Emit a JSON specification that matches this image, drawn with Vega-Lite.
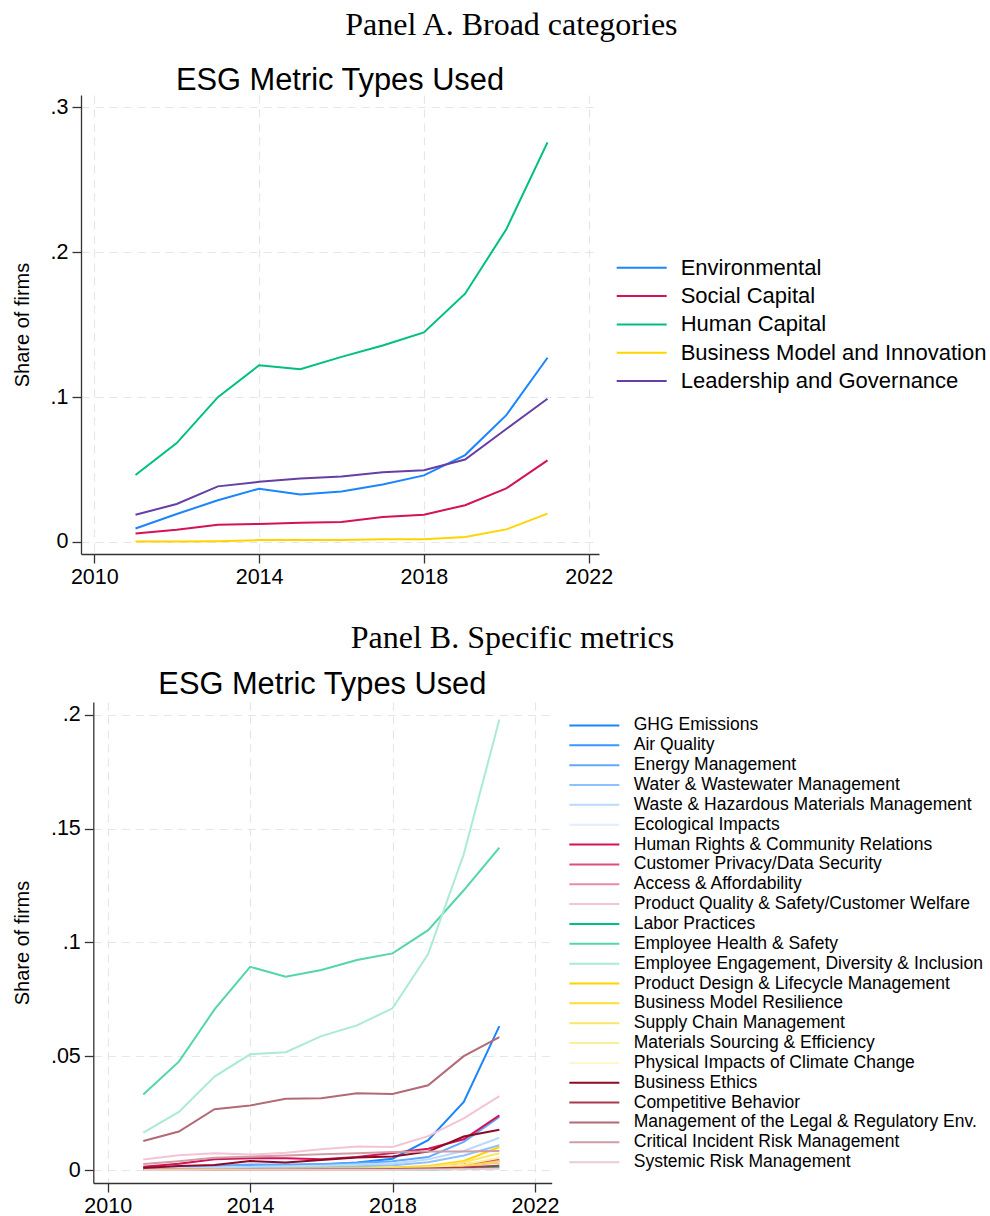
{
  "$schema": "https://vega.github.io/schema/vega-lite/v6.json",
  "background": "white",
  "padding": {"left": 12, "top": 8, "right": 0, "bottom": 0},
  "config": {
    "view": {"stroke": null},
    "font": "Liberation Sans",
    "axis": {
      "domainColor": "#333333", "domainWidth": 1.3,
      "tickColor": "#333333", "tickWidth": 1.3, "tickSize": 9,
      "labelFont": "Liberation Sans", "labelFontSize": 21.5, "labelColor": "#000000",
      "titleFont": "Liberation Sans", "titleFontSize": 20, "titleFontWeight": "normal", "titleColor": "#000000",
      "gridColor": "#E6E6E6", "gridDash": [8, 6], "gridWidth": 1.2
    },
    "legend": {"labelFont": "Liberation Sans", "labelColor": "#000000", "padding": 0, "labelLimit": 500}
  },
  "resolve": {"scale": {"color": "independent"}, "legend": {"color": "independent"}},
  "datasets": {
    "a": [
      {"year": 2011, "metric": "Environmental", "share": 0.0093},
      {"year": 2012, "metric": "Environmental", "share": 0.0193},
      {"year": 2013, "metric": "Environmental", "share": 0.0288},
      {"year": 2014, "metric": "Environmental", "share": 0.0368},
      {"year": 2015, "metric": "Environmental", "share": 0.0328},
      {"year": 2016, "metric": "Environmental", "share": 0.0349},
      {"year": 2017, "metric": "Environmental", "share": 0.0397},
      {"year": 2018, "metric": "Environmental", "share": 0.046},
      {"year": 2019, "metric": "Environmental", "share": 0.060},
      {"year": 2020, "metric": "Environmental", "share": 0.0876},
      {"year": 2021, "metric": "Environmental", "share": 0.1272},
      {"year": 2011, "metric": "Social Capital", "share": 0.0058},
      {"year": 2012, "metric": "Social Capital", "share": 0.0085},
      {"year": 2013, "metric": "Social Capital", "share": 0.0119},
      {"year": 2014, "metric": "Social Capital", "share": 0.0124},
      {"year": 2015, "metric": "Social Capital", "share": 0.0132},
      {"year": 2016, "metric": "Social Capital", "share": 0.0138},
      {"year": 2017, "metric": "Social Capital", "share": 0.0172},
      {"year": 2018, "metric": "Social Capital", "share": 0.0188},
      {"year": 2019, "metric": "Social Capital", "share": 0.0254},
      {"year": 2020, "metric": "Social Capital", "share": 0.037},
      {"year": 2021, "metric": "Social Capital", "share": 0.0563},
      {"year": 2011, "metric": "Human Capital", "share": 0.0463},
      {"year": 2012, "metric": "Human Capital", "share": 0.0683},
      {"year": 2013, "metric": "Human Capital", "share": 0.100},
      {"year": 2014, "metric": "Human Capital", "share": 0.122},
      {"year": 2015, "metric": "Human Capital", "share": 0.1193},
      {"year": 2016, "metric": "Human Capital", "share": 0.1278},
      {"year": 2017, "metric": "Human Capital", "share": 0.1357},
      {"year": 2018, "metric": "Human Capital", "share": 0.1447},
      {"year": 2019, "metric": "Human Capital", "share": 0.1714},
      {"year": 2020, "metric": "Human Capital", "share": 0.2159},
      {"year": 2021, "metric": "Human Capital", "share": 0.2759},
      {"year": 2011, "metric": "Business Model and Innovation", "share": 0.0003},
      {"year": 2012, "metric": "Business Model and Innovation", "share": 0.0003},
      {"year": 2013, "metric": "Business Model and Innovation", "share": 0.0005},
      {"year": 2014, "metric": "Business Model and Innovation", "share": 0.0013},
      {"year": 2015, "metric": "Business Model and Innovation", "share": 0.0014},
      {"year": 2016, "metric": "Business Model and Innovation", "share": 0.0014},
      {"year": 2017, "metric": "Business Model and Innovation", "share": 0.0018},
      {"year": 2018, "metric": "Business Model and Innovation", "share": 0.0019},
      {"year": 2019, "metric": "Business Model and Innovation", "share": 0.0034},
      {"year": 2020, "metric": "Business Model and Innovation", "share": 0.0087},
      {"year": 2021, "metric": "Business Model and Innovation", "share": 0.0196},
      {"year": 2011, "metric": "Leadership and Governance", "share": 0.0188},
      {"year": 2012, "metric": "Leadership and Governance", "share": 0.0262},
      {"year": 2013, "metric": "Leadership and Governance", "share": 0.0384},
      {"year": 2014, "metric": "Leadership and Governance", "share": 0.0415},
      {"year": 2015, "metric": "Leadership and Governance", "share": 0.0439},
      {"year": 2016, "metric": "Leadership and Governance", "share": 0.0452},
      {"year": 2017, "metric": "Leadership and Governance", "share": 0.0481},
      {"year": 2018, "metric": "Leadership and Governance", "share": 0.0495},
      {"year": 2019, "metric": "Leadership and Governance", "share": 0.0569},
      {"year": 2020, "metric": "Leadership and Governance", "share": 0.078},
      {"year": 2021, "metric": "Leadership and Governance", "share": 0.0989}
    ],
    "b": [
      {"year": 2011, "metric": "GHG Emissions", "share": 0.0009},
      {"year": 2012, "metric": "GHG Emissions", "share": 0.0015},
      {"year": 2013, "metric": "GHG Emissions", "share": 0.0018},
      {"year": 2014, "metric": "GHG Emissions", "share": 0.0019},
      {"year": 2015, "metric": "GHG Emissions", "share": 0.0022},
      {"year": 2016, "metric": "GHG Emissions", "share": 0.0025},
      {"year": 2017, "metric": "GHG Emissions", "share": 0.0034},
      {"year": 2018, "metric": "GHG Emissions", "share": 0.0051},
      {"year": 2019, "metric": "GHG Emissions", "share": 0.0132},
      {"year": 2020, "metric": "GHG Emissions", "share": 0.030},
      {"year": 2021, "metric": "GHG Emissions", "share": 0.0633},
      {"year": 2011, "metric": "Air Quality", "share": 0.0003},
      {"year": 2012, "metric": "Air Quality", "share": 0.0004},
      {"year": 2013, "metric": "Air Quality", "share": 0.0005},
      {"year": 2014, "metric": "Air Quality", "share": 0.0006},
      {"year": 2015, "metric": "Air Quality", "share": 0.0006},
      {"year": 2016, "metric": "Air Quality", "share": 0.0007},
      {"year": 2017, "metric": "Air Quality", "share": 0.0008},
      {"year": 2018, "metric": "Air Quality", "share": 0.001},
      {"year": 2019, "metric": "Air Quality", "share": 0.0015},
      {"year": 2020, "metric": "Air Quality", "share": 0.0025},
      {"year": 2021, "metric": "Air Quality", "share": 0.004},
      {"year": 2011, "metric": "Energy Management", "share": 0.0012},
      {"year": 2012, "metric": "Energy Management", "share": 0.0016},
      {"year": 2013, "metric": "Energy Management", "share": 0.002},
      {"year": 2014, "metric": "Energy Management", "share": 0.0025},
      {"year": 2015, "metric": "Energy Management", "share": 0.0026},
      {"year": 2016, "metric": "Energy Management", "share": 0.0028},
      {"year": 2017, "metric": "Energy Management", "share": 0.0032},
      {"year": 2018, "metric": "Energy Management", "share": 0.004},
      {"year": 2019, "metric": "Energy Management", "share": 0.0058},
      {"year": 2020, "metric": "Energy Management", "share": 0.0125},
      {"year": 2021, "metric": "Energy Management", "share": 0.0234},
      {"year": 2011, "metric": "Water & Wastewater Management", "share": 0.0005},
      {"year": 2012, "metric": "Water & Wastewater Management", "share": 0.0007},
      {"year": 2013, "metric": "Water & Wastewater Management", "share": 0.001},
      {"year": 2014, "metric": "Water & Wastewater Management", "share": 0.0012},
      {"year": 2015, "metric": "Water & Wastewater Management", "share": 0.0013},
      {"year": 2016, "metric": "Water & Wastewater Management", "share": 0.0015},
      {"year": 2017, "metric": "Water & Wastewater Management", "share": 0.0018},
      {"year": 2018, "metric": "Water & Wastewater Management", "share": 0.0022},
      {"year": 2019, "metric": "Water & Wastewater Management", "share": 0.0035},
      {"year": 2020, "metric": "Water & Wastewater Management", "share": 0.0065},
      {"year": 2021, "metric": "Water & Wastewater Management", "share": 0.011},
      {"year": 2011, "metric": "Waste & Hazardous Materials Management", "share": 0.0008},
      {"year": 2012, "metric": "Waste & Hazardous Materials Management", "share": 0.001},
      {"year": 2013, "metric": "Waste & Hazardous Materials Management", "share": 0.0013},
      {"year": 2014, "metric": "Waste & Hazardous Materials Management", "share": 0.0016},
      {"year": 2015, "metric": "Waste & Hazardous Materials Management", "share": 0.0018},
      {"year": 2016, "metric": "Waste & Hazardous Materials Management", "share": 0.002},
      {"year": 2017, "metric": "Waste & Hazardous Materials Management", "share": 0.0025},
      {"year": 2018, "metric": "Waste & Hazardous Materials Management", "share": 0.003},
      {"year": 2019, "metric": "Waste & Hazardous Materials Management", "share": 0.0048},
      {"year": 2020, "metric": "Waste & Hazardous Materials Management", "share": 0.0085},
      {"year": 2021, "metric": "Waste & Hazardous Materials Management", "share": 0.0143},
      {"year": 2011, "metric": "Ecological Impacts", "share": 0.0002},
      {"year": 2012, "metric": "Ecological Impacts", "share": 0.0003},
      {"year": 2013, "metric": "Ecological Impacts", "share": 0.0003},
      {"year": 2014, "metric": "Ecological Impacts", "share": 0.0004},
      {"year": 2015, "metric": "Ecological Impacts", "share": 0.0004},
      {"year": 2016, "metric": "Ecological Impacts", "share": 0.0005},
      {"year": 2017, "metric": "Ecological Impacts", "share": 0.0006},
      {"year": 2018, "metric": "Ecological Impacts", "share": 0.0007},
      {"year": 2019, "metric": "Ecological Impacts", "share": 0.001},
      {"year": 2020, "metric": "Ecological Impacts", "share": 0.0018},
      {"year": 2021, "metric": "Ecological Impacts", "share": 0.003},
      {"year": 2011, "metric": "Human Rights & Community Relations", "share": 0.0016},
      {"year": 2012, "metric": "Human Rights & Community Relations", "share": 0.0029},
      {"year": 2013, "metric": "Human Rights & Community Relations", "share": 0.0048},
      {"year": 2014, "metric": "Human Rights & Community Relations", "share": 0.0053},
      {"year": 2015, "metric": "Human Rights & Community Relations", "share": 0.0053},
      {"year": 2016, "metric": "Human Rights & Community Relations", "share": 0.0048},
      {"year": 2017, "metric": "Human Rights & Community Relations", "share": 0.0058},
      {"year": 2018, "metric": "Human Rights & Community Relations", "share": 0.0076},
      {"year": 2019, "metric": "Human Rights & Community Relations", "share": 0.0095},
      {"year": 2020, "metric": "Human Rights & Community Relations", "share": 0.0136},
      {"year": 2021, "metric": "Human Rights & Community Relations", "share": 0.0241},
      {"year": 2011, "metric": "Customer Privacy/Data Security", "share": 0.0002},
      {"year": 2012, "metric": "Customer Privacy/Data Security", "share": 0.0003},
      {"year": 2013, "metric": "Customer Privacy/Data Security", "share": 0.0004},
      {"year": 2014, "metric": "Customer Privacy/Data Security", "share": 0.0005},
      {"year": 2015, "metric": "Customer Privacy/Data Security", "share": 0.0005},
      {"year": 2016, "metric": "Customer Privacy/Data Security", "share": 0.0006},
      {"year": 2017, "metric": "Customer Privacy/Data Security", "share": 0.0007},
      {"year": 2018, "metric": "Customer Privacy/Data Security", "share": 0.0008},
      {"year": 2019, "metric": "Customer Privacy/Data Security", "share": 0.0012},
      {"year": 2020, "metric": "Customer Privacy/Data Security", "share": 0.0025},
      {"year": 2021, "metric": "Customer Privacy/Data Security", "share": 0.0048},
      {"year": 2011, "metric": "Access & Affordability", "share": 0.0002},
      {"year": 2012, "metric": "Access & Affordability", "share": 0.0002},
      {"year": 2013, "metric": "Access & Affordability", "share": 0.0003},
      {"year": 2014, "metric": "Access & Affordability", "share": 0.0003},
      {"year": 2015, "metric": "Access & Affordability", "share": 0.0004},
      {"year": 2016, "metric": "Access & Affordability", "share": 0.0004},
      {"year": 2017, "metric": "Access & Affordability", "share": 0.0005},
      {"year": 2018, "metric": "Access & Affordability", "share": 0.0006},
      {"year": 2019, "metric": "Access & Affordability", "share": 0.0009},
      {"year": 2020, "metric": "Access & Affordability", "share": 0.0016},
      {"year": 2021, "metric": "Access & Affordability", "share": 0.0028},
      {"year": 2011, "metric": "Product Quality & Safety/Customer Welfare", "share": 0.0047},
      {"year": 2012, "metric": "Product Quality & Safety/Customer Welfare", "share": 0.0066},
      {"year": 2013, "metric": "Product Quality & Safety/Customer Welfare", "share": 0.0075},
      {"year": 2014, "metric": "Product Quality & Safety/Customer Welfare", "share": 0.0069},
      {"year": 2015, "metric": "Product Quality & Safety/Customer Welfare", "share": 0.0077},
      {"year": 2016, "metric": "Product Quality & Safety/Customer Welfare", "share": 0.0092},
      {"year": 2017, "metric": "Product Quality & Safety/Customer Welfare", "share": 0.0104},
      {"year": 2018, "metric": "Product Quality & Safety/Customer Welfare", "share": 0.0102},
      {"year": 2019, "metric": "Product Quality & Safety/Customer Welfare", "share": 0.015},
      {"year": 2020, "metric": "Product Quality & Safety/Customer Welfare", "share": 0.0228},
      {"year": 2021, "metric": "Product Quality & Safety/Customer Welfare", "share": 0.0326},
      {"year": 2011, "metric": "Labor Practices", "share": 0.0001},
      {"year": 2012, "metric": "Labor Practices", "share": 0.0001},
      {"year": 2013, "metric": "Labor Practices", "share": 0.0001},
      {"year": 2014, "metric": "Labor Practices", "share": 0.0002},
      {"year": 2015, "metric": "Labor Practices", "share": 0.0002},
      {"year": 2016, "metric": "Labor Practices", "share": 0.0002},
      {"year": 2017, "metric": "Labor Practices", "share": 0.0003},
      {"year": 2018, "metric": "Labor Practices", "share": 0.0003},
      {"year": 2019, "metric": "Labor Practices", "share": 0.0004},
      {"year": 2020, "metric": "Labor Practices", "share": 0.0007},
      {"year": 2021, "metric": "Labor Practices", "share": 0.0012},
      {"year": 2011, "metric": "Employee Health & Safety", "share": 0.0333},
      {"year": 2012, "metric": "Employee Health & Safety", "share": 0.0477},
      {"year": 2013, "metric": "Employee Health & Safety", "share": 0.0706},
      {"year": 2014, "metric": "Employee Health & Safety", "share": 0.0893},
      {"year": 2015, "metric": "Employee Health & Safety", "share": 0.085},
      {"year": 2016, "metric": "Employee Health & Safety", "share": 0.0879},
      {"year": 2017, "metric": "Employee Health & Safety", "share": 0.0923},
      {"year": 2018, "metric": "Employee Health & Safety", "share": 0.0952},
      {"year": 2019, "metric": "Employee Health & Safety", "share": 0.1054},
      {"year": 2020, "metric": "Employee Health & Safety", "share": 0.1229},
      {"year": 2021, "metric": "Employee Health & Safety", "share": 0.1416},
      {"year": 2011, "metric": "Employee Engagement, Diversity & Inclusion", "share": 0.0165},
      {"year": 2012, "metric": "Employee Engagement, Diversity & Inclusion", "share": 0.0256},
      {"year": 2013, "metric": "Employee Engagement, Diversity & Inclusion", "share": 0.0411},
      {"year": 2014, "metric": "Employee Engagement, Diversity & Inclusion", "share": 0.0509},
      {"year": 2015, "metric": "Employee Engagement, Diversity & Inclusion", "share": 0.0518},
      {"year": 2016, "metric": "Employee Engagement, Diversity & Inclusion", "share": 0.0589},
      {"year": 2017, "metric": "Employee Engagement, Diversity & Inclusion", "share": 0.0636},
      {"year": 2018, "metric": "Employee Engagement, Diversity & Inclusion", "share": 0.0711},
      {"year": 2019, "metric": "Employee Engagement, Diversity & Inclusion", "share": 0.0949},
      {"year": 2020, "metric": "Employee Engagement, Diversity & Inclusion", "share": 0.1387},
      {"year": 2021, "metric": "Employee Engagement, Diversity & Inclusion", "share": 0.1978},
      {"year": 2011, "metric": "Product Design & Lifecycle Management", "share": 0.0003},
      {"year": 2012, "metric": "Product Design & Lifecycle Management", "share": 0.0004},
      {"year": 2013, "metric": "Product Design & Lifecycle Management", "share": 0.0005},
      {"year": 2014, "metric": "Product Design & Lifecycle Management", "share": 0.0006},
      {"year": 2015, "metric": "Product Design & Lifecycle Management", "share": 0.0007},
      {"year": 2016, "metric": "Product Design & Lifecycle Management", "share": 0.0008},
      {"year": 2017, "metric": "Product Design & Lifecycle Management", "share": 0.0009},
      {"year": 2018, "metric": "Product Design & Lifecycle Management", "share": 0.0012},
      {"year": 2019, "metric": "Product Design & Lifecycle Management", "share": 0.0019},
      {"year": 2020, "metric": "Product Design & Lifecycle Management", "share": 0.0041},
      {"year": 2021, "metric": "Product Design & Lifecycle Management", "share": 0.0102},
      {"year": 2011, "metric": "Business Model Resilience", "share": 0.0001},
      {"year": 2012, "metric": "Business Model Resilience", "share": 0.0001},
      {"year": 2013, "metric": "Business Model Resilience", "share": 0.0002},
      {"year": 2014, "metric": "Business Model Resilience", "share": 0.0002},
      {"year": 2015, "metric": "Business Model Resilience", "share": 0.0002},
      {"year": 2016, "metric": "Business Model Resilience", "share": 0.0003},
      {"year": 2017, "metric": "Business Model Resilience", "share": 0.0003},
      {"year": 2018, "metric": "Business Model Resilience", "share": 0.0004},
      {"year": 2019, "metric": "Business Model Resilience", "share": 0.0008},
      {"year": 2020, "metric": "Business Model Resilience", "share": 0.0018},
      {"year": 2021, "metric": "Business Model Resilience", "share": 0.004},
      {"year": 2011, "metric": "Supply Chain Management", "share": 0.0002},
      {"year": 2012, "metric": "Supply Chain Management", "share": 0.0003},
      {"year": 2013, "metric": "Supply Chain Management", "share": 0.0004},
      {"year": 2014, "metric": "Supply Chain Management", "share": 0.0004},
      {"year": 2015, "metric": "Supply Chain Management", "share": 0.0005},
      {"year": 2016, "metric": "Supply Chain Management", "share": 0.0006},
      {"year": 2017, "metric": "Supply Chain Management", "share": 0.0007},
      {"year": 2018, "metric": "Supply Chain Management", "share": 0.0009},
      {"year": 2019, "metric": "Supply Chain Management", "share": 0.0015},
      {"year": 2020, "metric": "Supply Chain Management", "share": 0.0035},
      {"year": 2021, "metric": "Supply Chain Management", "share": 0.0075},
      {"year": 2011, "metric": "Materials Sourcing & Efficiency", "share": 0.0001},
      {"year": 2012, "metric": "Materials Sourcing & Efficiency", "share": 0.0002},
      {"year": 2013, "metric": "Materials Sourcing & Efficiency", "share": 0.0002},
      {"year": 2014, "metric": "Materials Sourcing & Efficiency", "share": 0.0003},
      {"year": 2015, "metric": "Materials Sourcing & Efficiency", "share": 0.0003},
      {"year": 2016, "metric": "Materials Sourcing & Efficiency", "share": 0.0004},
      {"year": 2017, "metric": "Materials Sourcing & Efficiency", "share": 0.0005},
      {"year": 2018, "metric": "Materials Sourcing & Efficiency", "share": 0.0006},
      {"year": 2019, "metric": "Materials Sourcing & Efficiency", "share": 0.001},
      {"year": 2020, "metric": "Materials Sourcing & Efficiency", "share": 0.0025},
      {"year": 2021, "metric": "Materials Sourcing & Efficiency", "share": 0.0055},
      {"year": 2011, "metric": "Physical Impacts of Climate Change", "share": 0.0001},
      {"year": 2012, "metric": "Physical Impacts of Climate Change", "share": 0.0001},
      {"year": 2013, "metric": "Physical Impacts of Climate Change", "share": 0.0001},
      {"year": 2014, "metric": "Physical Impacts of Climate Change", "share": 0.0001},
      {"year": 2015, "metric": "Physical Impacts of Climate Change", "share": 0.0002},
      {"year": 2016, "metric": "Physical Impacts of Climate Change", "share": 0.0002},
      {"year": 2017, "metric": "Physical Impacts of Climate Change", "share": 0.0002},
      {"year": 2018, "metric": "Physical Impacts of Climate Change", "share": 0.0003},
      {"year": 2019, "metric": "Physical Impacts of Climate Change", "share": 0.0005},
      {"year": 2020, "metric": "Physical Impacts of Climate Change", "share": 0.0012},
      {"year": 2021, "metric": "Physical Impacts of Climate Change", "share": 0.0025},
      {"year": 2011, "metric": "Business Ethics", "share": 0.001},
      {"year": 2012, "metric": "Business Ethics", "share": 0.0019},
      {"year": 2013, "metric": "Business Ethics", "share": 0.0023},
      {"year": 2014, "metric": "Business Ethics", "share": 0.0041},
      {"year": 2015, "metric": "Business Ethics", "share": 0.0034},
      {"year": 2016, "metric": "Business Ethics", "share": 0.0045},
      {"year": 2017, "metric": "Business Ethics", "share": 0.0056},
      {"year": 2018, "metric": "Business Ethics", "share": 0.0061},
      {"year": 2019, "metric": "Business Ethics", "share": 0.0082},
      {"year": 2020, "metric": "Business Ethics", "share": 0.0148},
      {"year": 2021, "metric": "Business Ethics", "share": 0.0178},
      {"year": 2011, "metric": "Competitive Behavior", "share": 0.0002},
      {"year": 2012, "metric": "Competitive Behavior", "share": 0.0003},
      {"year": 2013, "metric": "Competitive Behavior", "share": 0.0003},
      {"year": 2014, "metric": "Competitive Behavior", "share": 0.0004},
      {"year": 2015, "metric": "Competitive Behavior", "share": 0.0004},
      {"year": 2016, "metric": "Competitive Behavior", "share": 0.0005},
      {"year": 2017, "metric": "Competitive Behavior", "share": 0.0005},
      {"year": 2018, "metric": "Competitive Behavior", "share": 0.0006},
      {"year": 2019, "metric": "Competitive Behavior", "share": 0.0008},
      {"year": 2020, "metric": "Competitive Behavior", "share": 0.0012},
      {"year": 2021, "metric": "Competitive Behavior", "share": 0.002},
      {"year": 2011, "metric": "Management of the Legal & Regulatory Env.", "share": 0.0129},
      {"year": 2012, "metric": "Management of the Legal & Regulatory Env.", "share": 0.017},
      {"year": 2013, "metric": "Management of the Legal & Regulatory Env.", "share": 0.0268},
      {"year": 2014, "metric": "Management of the Legal & Regulatory Env.", "share": 0.0284},
      {"year": 2015, "metric": "Management of the Legal & Regulatory Env.", "share": 0.0314},
      {"year": 2016, "metric": "Management of the Legal & Regulatory Env.", "share": 0.0316},
      {"year": 2017, "metric": "Management of the Legal & Regulatory Env.", "share": 0.0338},
      {"year": 2018, "metric": "Management of the Legal & Regulatory Env.", "share": 0.0335},
      {"year": 2019, "metric": "Management of the Legal & Regulatory Env.", "share": 0.0373},
      {"year": 2020, "metric": "Management of the Legal & Regulatory Env.", "share": 0.0501},
      {"year": 2021, "metric": "Management of the Legal & Regulatory Env.", "share": 0.0585},
      {"year": 2011, "metric": "Critical Incident Risk Management", "share": 0.0028},
      {"year": 2012, "metric": "Critical Incident Risk Management", "share": 0.004},
      {"year": 2013, "metric": "Critical Incident Risk Management", "share": 0.0055},
      {"year": 2014, "metric": "Critical Incident Risk Management", "share": 0.006},
      {"year": 2015, "metric": "Critical Incident Risk Management", "share": 0.0065},
      {"year": 2016, "metric": "Critical Incident Risk Management", "share": 0.007},
      {"year": 2017, "metric": "Critical Incident Risk Management", "share": 0.0075},
      {"year": 2018, "metric": "Critical Incident Risk Management", "share": 0.008},
      {"year": 2019, "metric": "Critical Incident Risk Management", "share": 0.0082},
      {"year": 2020, "metric": "Critical Incident Risk Management", "share": 0.0083},
      {"year": 2021, "metric": "Critical Incident Risk Management", "share": 0.0085},
      {"year": 2011, "metric": "Systemic Risk Management", "share": 0.0001},
      {"year": 2012, "metric": "Systemic Risk Management", "share": 0.0001},
      {"year": 2013, "metric": "Systemic Risk Management", "share": 0.0002},
      {"year": 2014, "metric": "Systemic Risk Management", "share": 0.0002},
      {"year": 2015, "metric": "Systemic Risk Management", "share": 0.0002},
      {"year": 2016, "metric": "Systemic Risk Management", "share": 0.0003},
      {"year": 2017, "metric": "Systemic Risk Management", "share": 0.0003},
      {"year": 2018, "metric": "Systemic Risk Management", "share": 0.0003},
      {"year": 2019, "metric": "Systemic Risk Management", "share": 0.0004},
      {"year": 2020, "metric": "Systemic Risk Management", "share": 0.0005},
      {"year": 2021, "metric": "Systemic Risk Management", "share": 0.0007}
    ]
  },
  "concat": [
    {
      "title": {"text": "Panel A. Broad categories", "font": "Liberation Serif", "fontSize": 32, "fontWeight": "normal", "color": "#000000", "anchor": "middle", "baseline": "alphabetic", "offset": -2, "dx": 12},
      "vconcat": [
        {
          "width": 518,
          "height": 459,
          "title": {"text": "ESG Metric Types Used", "font": "Liberation Sans", "fontSize": 30.8, "fontWeight": "normal", "color": "#000000", "anchor": "middle", "baseline": "alphabetic", "offset": -25.5},
          "data": {"name": "a"},
          "mark": {"type": "line", "strokeWidth": 2},
          "encoding": {
            "x": {"field": "year", "type": "quantitative",
              "scale": {"domain": [2009.677, 2022.25], "nice": false, "zero": false},
              "axis": {"values": [2010, 2014, 2018, 2022], "format": "d", "title": null, "labelPadding": 3}},
            "y": {"field": "share", "type": "quantitative",
              "scale": {"domain": [-0.0083, 0.3086], "nice": false, "zero": false},
              "axis": {"values": [0, 0.1, 0.2, 0.3], "labelExpr": "datum.value == 0 ? '0' : replace(format(datum.value, '.2~f'), '0.', '.')", "title": "Share of firms", "titlePadding": 18, "labelPadding": 4}},
            "color": {"field": "metric", "type": "nominal",
              "scale": {"domain": ["Environmental", "Social Capital", "Human Capital", "Business Model and Innovation", "Leadership and Governance"],
                "range": ["#1A85FF", "#D41159", "#00BF7F", "#FFD400", "#653FA6"]},
              "legend": {"title": null, "orient": "none", "legendX": 549.7, "legendY": 161.8, "symbolType": "M-5,0H5", "symbolSize": 100, "symbolStrokeWidth": 2, "labelFontSize": 22, "labelOffset": 28, "rowPadding": 6.3}}
          }
        }
      ]
    },
    {
      "title": {"text": "Panel B. Specific metrics", "font": "Liberation Serif", "fontSize": 32, "fontWeight": "normal", "color": "#000000", "anchor": "middle", "baseline": "alphabetic", "offset": -11, "dx": 14.5},
      "vconcat": [
        {
          "width": 470.7,
          "height": 481,
          "title": {"text": "ESG Metric Types Used", "font": "Liberation Sans", "fontSize": 30.8, "fontWeight": "normal", "color": "#000000", "anchor": "middle", "baseline": "alphabetic", "offset": -22.3, "dx": 6},
          "data": {"name": "b"},
          "mark": {"type": "line", "strokeWidth": 2},
          "encoding": {
            "x": {"field": "year", "type": "quantitative",
              "scale": {"domain": [2009.596, 2022.47], "range": [12.3, 470.7], "nice": false, "zero": false},
              "axis": {"values": [2010, 2014, 2018, 2022], "format": "d", "title": null, "labelPadding": 3}},
            "y": {"field": "share", "type": "quantitative",
              "scale": {"domain": [-0.00557, 0.20553], "nice": false, "zero": false},
              "axis": {"values": [0, 0.05, 0.1, 0.15, 0.2], "labelExpr": "datum.value == 0 ? '0' : replace(format(datum.value, '.2~f'), '0.', '.')", "title": "Share of firms", "titlePadding": 18, "labelPadding": 4, "offset": -12.3}},
            "color": {"field": "metric", "type": "nominal",
              "scale": {"domain": ["GHG Emissions", "Air Quality", "Energy Management", "Water & Wastewater Management", "Waste & Hazardous Materials Management", "Ecological Impacts", "Human Rights & Community Relations", "Customer Privacy/Data Security", "Access & Affordability", "Product Quality & Safety/Customer Welfare", "Labor Practices", "Employee Health & Safety", "Employee Engagement, Diversity & Inclusion", "Product Design & Lifecycle Management", "Business Model Resilience", "Supply Chain Management", "Materials Sourcing & Efficiency", "Physical Impacts of Climate Change", "Business Ethics", "Competitive Behavior", "Management of the Legal & Regulatory Env.", "Critical Incident Risk Management", "Systemic Risk Management"],
                "range": ["#1A85FF", "#3C96FF", "#60A9FF", "#8EC2FF", "#BAD9FF", "#E0EEFF", "#D41159", "#DF4D83", "#EA88AC", "#F4C4D5", "#00BF7F", "#54D5AA", "#ABEAD5", "#FFD400", "#FFDD33", "#FFE566", "#FFEE99", "#FFF6CC", "#8C0A23", "#A83A4F", "#B26A76", "#D09DA6", "#E6CDD2"]},
              "legend": {"title": null, "orient": "none", "legendX": 504.6, "legendY": 14.7, "symbolType": "M-5,0H5", "symbolSize": 100, "symbolStrokeWidth": 2, "labelFontSize": 17.5, "labelOffset": 30.65, "rowPadding": 0.85, "symbolLimit": 0}}
          }
        }
      ]
    }
  ],
  "columns": 1,
  "spacing": 33
}
